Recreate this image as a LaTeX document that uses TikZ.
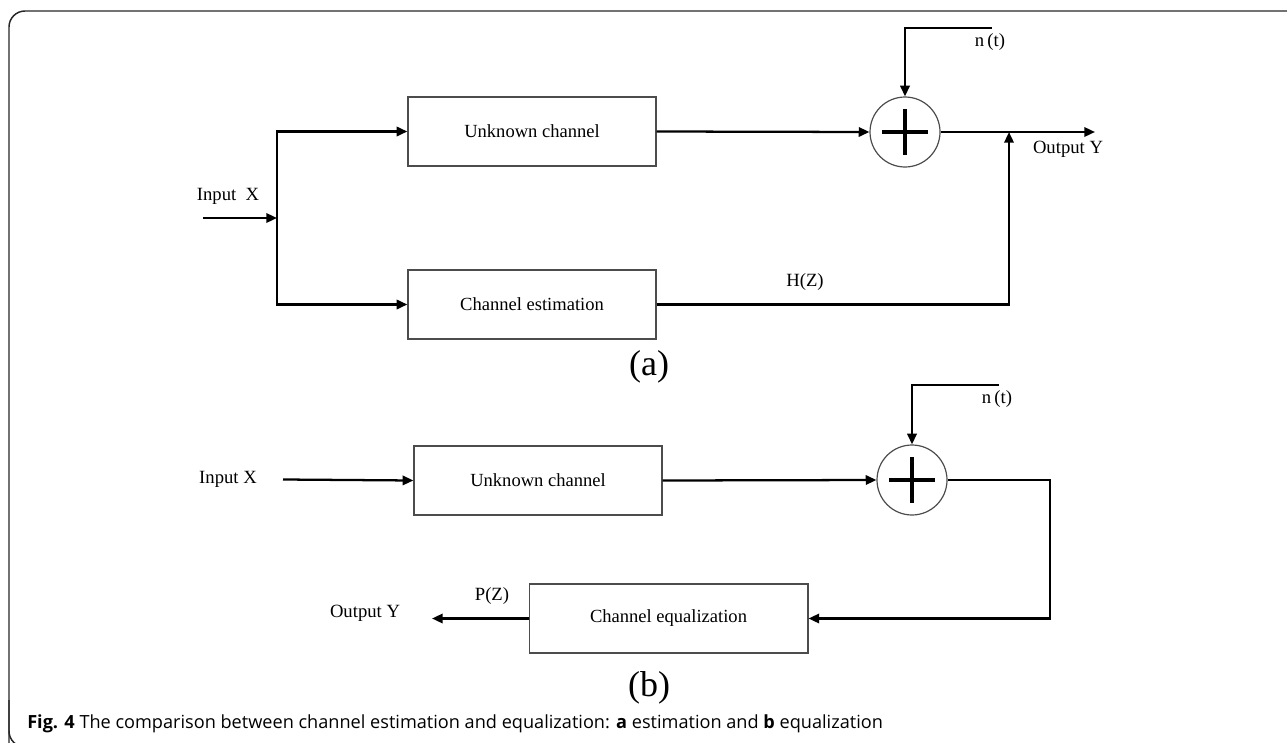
\documentclass[tikz,border=0pt]{standalone}
\usepackage{fontspec}
\setmainfont{Liberation Serif}
\newfontfamily\capfont{Open Sans}
\usetikzlibrary{arrows.meta}
\begin{document}
\begin{tikzpicture}[x=0.75pt,y=-0.75pt,
  lbl/.style={inner sep=0pt,font=\fontsize{14}{16}\selectfont},
  blk/.style={draw=black!70,line width=1pt,minimum width=186pt,minimum height=51.75pt,inner sep=0pt,font=\fontsize{13.9}{16}\selectfont},
  sumnode/.style={circle,draw=black!70,line width=0.9pt,minimum size=52.5pt,inner sep=0pt},
  conn/.style={line width=1.7pt,-{Triangle[length=8pt,width=7pt]}},
  wire/.style={line width=1.7pt},
  sub/.style={inner sep=0pt,font=\fontsize{27}{30}\selectfont},
  plusbar/.style={line width=2.6pt}]
\useasboundingbox (0,0) rectangle (1287,742);
\begin{scope}
\clip (0,0) rectangle (1287,742);
\draw[line width=1.1pt,black!85,rounded corners=12pt] (9,760) -- (9,11) -- (1300,11);
\draw[line width=1.1pt,black!85,rounded corners=12pt] (9,700) -- (9,747) -- (60,747);
\end{scope}
% ---------- (a) ----------
\node[lbl] (inX1) at (228,196) {Input~ X};
\coordinate (in1) at (203,218);
\coordinate (j1) at (277,218);
\node[blk] (uc1) at (532,131.5) {Unknown channel};
\node[blk] (ce1) at (532,304.5) {Channel estimation};
\node[sumnode] (s1) at (905,132) {};
\draw[plusbar] ([xshift=-17pt]s1.center) -- ([xshift=17pt]s1.center);
\draw[plusbar] ([yshift=-17pt]s1.center) -- ([yshift=17pt]s1.center);
\coordinate (nt1) at (992,28);
\node[lbl,anchor=north] (ntl1) at (990,33) {n\,(t)};
\coordinate (out1) at (1095,132);
\coordinate (jo1) at (1009,132);
\node[lbl] (oy1) at (1068,149) {Output Y};
\node[lbl] (hz) at (805,282) {H(Z)};
\node[sub] (la) at (649,367) {(a)};
\draw[conn] (in1) -- (j1);
\draw[conn] (j1) |- (uc1.west);
\draw[conn] (j1) |- (ce1.west);
\draw[conn] (uc1.east) -- (s1.west);
\draw[conn] (nt1) -| (s1.north);
\draw[conn] (s1.east) -- (out1);
\draw[conn] (ce1.east) -| (jo1);
% ---------- (b) ----------
\node[lbl] (inX2) at (228,479) {Input X};
\coordinate (in2) at (283,479.5);
\node[blk] (uc2) at (538,480.5) {Unknown channel};
\node[sumnode] (s2) at (912,480) {};
\draw[plusbar] ([xshift=-17pt]s2.center) -- ([xshift=17pt]s2.center);
\draw[plusbar] ([yshift=-17pt]s2.center) -- ([yshift=17pt]s2.center);
\coordinate (nt2) at (999,385);
\node[lbl,anchor=north] (ntl2) at (997,390) {n\,(t)};
\coordinate (c2) at (1050,480);
\node[blk,minimum width=209pt] (eq) at (668.5,618.5) {Channel equalization};
\coordinate (out2) at (432,618.5);
\node[lbl] (oy2) at (365,613) {Output Y};
\node[lbl] (pz) at (492,596) {P(Z)};
\node[sub] (lb) at (649,688) {(b)};
\draw[conn] (in2) -- (uc2.west);
\draw[conn] (uc2.east) -- (s2.west);
\draw[conn] (nt2) -| (s2.north);
\draw[conn] (s2.east) -- (c2) |- (eq.east);
\draw[conn] (eq.west) -- (out2);
% ---------- caption ----------
\node[anchor=base west,inner sep=0pt,font=\capfont\fontsize{13.6}{15}\selectfont] (cap) at (27,728) {\textbf{Fig. 4} The comparison between channel estimation and equalization: \textbf{a} estimation and \textbf{b} equalization};
\end{tikzpicture}
\end{document}
